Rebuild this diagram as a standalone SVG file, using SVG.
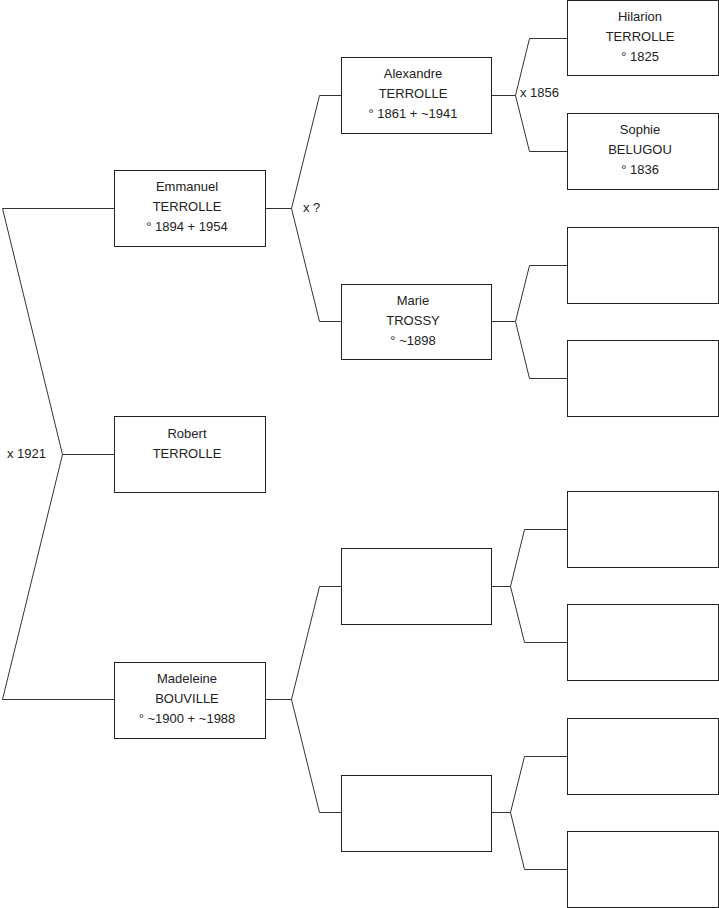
<svg xmlns="http://www.w3.org/2000/svg" width="719" height="908" viewBox="0 0 719 908">
<style>
.box{fill:#fff;stroke:#222;stroke-width:1}
.ln{fill:none;stroke:#333;stroke-width:1}
text{font-family:"Liberation Sans",Arial,sans-serif;font-size:13px;fill:#222}
.c{text-anchor:middle}
</style>
<rect width="719" height="908" fill="#fff"/>
<g id="connectors">
<polyline class="ln" points="114,208.5 2.5,208.5 62.5,454.5 2.5,699.5 114,699.5"/>
<line class="ln" x1="62.5" y1="454.5" x2="114" y2="454.5"/>
<polyline class="ln" points="341,95.5 319.5,95.5 291.5,208.5 319.5,321.5 341,321.5"/>
<line class="ln" x1="265" y1="208.5" x2="291.5" y2="208.5"/>
<polyline class="ln" points="341,586.5 319.5,586.5 291.5,699.5 319.5,812.5 341,812.5"/>
<line class="ln" x1="265" y1="699.5" x2="291.5" y2="699.5"/>
<polyline class="ln" points="567,38.5 529.5,38.5 515.5,95.5 529.5,151.5 567,151.5"/>
<line class="ln" x1="492" y1="95.5" x2="515.5" y2="95.5"/>
<polyline class="ln" points="567,265.5 529.5,265.5 515.5,321.5 529.5,378.5 567,378.5"/>
<line class="ln" x1="492" y1="321.5" x2="515.5" y2="321.5"/>
<polyline class="ln" points="567,529.5 524.5,529.5 510.5,586.5 524.5,642.5 567,642.5"/>
<line class="ln" x1="492" y1="586.5" x2="510.5" y2="586.5"/>
<polyline class="ln" points="567,756.5 524.5,756.5 510.5,812.5 524.5,869.5 567,869.5"/>
<line class="ln" x1="492" y1="812.5" x2="510.5" y2="812.5"/>
<text x="7" y="458">x 1921</text>
<text x="303" y="212">x ?</text>
<text x="520" y="97">x 1856</text>
</g>
<g id="emmanuel">
<rect class="box" x="114.5" y="170.5" width="151" height="76"/>
<text class="c" x="187" y="191">Emmanuel</text>
<text class="c" x="187" y="211">TERROLLE</text>
<text class="c" x="187" y="231">° 1894 + 1954</text>
</g>
<g id="robert">
<rect class="box" x="114.5" y="416.5" width="151" height="76"/>
<text class="c" x="187" y="437.5">Robert</text>
<text class="c" x="187" y="457.5">TERROLLE</text>
</g>
<g id="madeleine">
<rect class="box" x="114.5" y="662.5" width="151" height="76"/>
<text class="c" x="187" y="683">Madeleine</text>
<text class="c" x="187" y="703">BOUVILLE</text>
<text class="c" x="187" y="723">° ~1900 + ~1988</text>
</g>
<g id="alexandre">
<rect class="box" x="341.5" y="57.5" width="150" height="76"/>
<text class="c" x="413" y="78">Alexandre</text>
<text class="c" x="413" y="98">TERROLLE</text>
<text class="c" x="413" y="118">° 1861 + ~1941</text>
</g>
<g id="marie">
<rect class="box" x="341.5" y="284.5" width="150" height="75"/>
<text class="c" x="413" y="305">Marie</text>
<text class="c" x="413" y="325">TROSSY</text>
<text class="c" x="413" y="345">° ~1898</text>
</g>
<g id="gen2-3">
<rect class="box" x="341.5" y="548.5" width="150" height="76"/>
</g>
<g id="gen2-4">
<rect class="box" x="341.5" y="775.5" width="150" height="76"/>
</g>
<g id="hilarion">
<rect class="box" x="567.5" y="0.5" width="151" height="75"/>
<text class="c" x="640" y="21">Hilarion</text>
<text class="c" x="640" y="41">TERROLLE</text>
<text class="c" x="640" y="61">° 1825</text>
</g>
<g id="sophie">
<rect class="box" x="567.5" y="113.5" width="151" height="76"/>
<text class="c" x="640" y="134">Sophie</text>
<text class="c" x="640" y="154">BELUGOU</text>
<text class="c" x="640" y="174">° 1836</text>
</g>
<g id="gen3-3"><rect class="box" x="567.5" y="227.5" width="151" height="76"/></g>
<g id="gen3-4"><rect class="box" x="567.5" y="340.5" width="151" height="76"/></g>
<g id="gen3-5"><rect class="box" x="567.5" y="491.5" width="151" height="76"/></g>
<g id="gen3-6"><rect class="box" x="567.5" y="604.5" width="151" height="76"/></g>
<g id="gen3-7"><rect class="box" x="567.5" y="718.5" width="151" height="76"/></g>
<g id="gen3-8"><rect class="box" x="567.5" y="831.5" width="151" height="76"/></g>
</svg>
